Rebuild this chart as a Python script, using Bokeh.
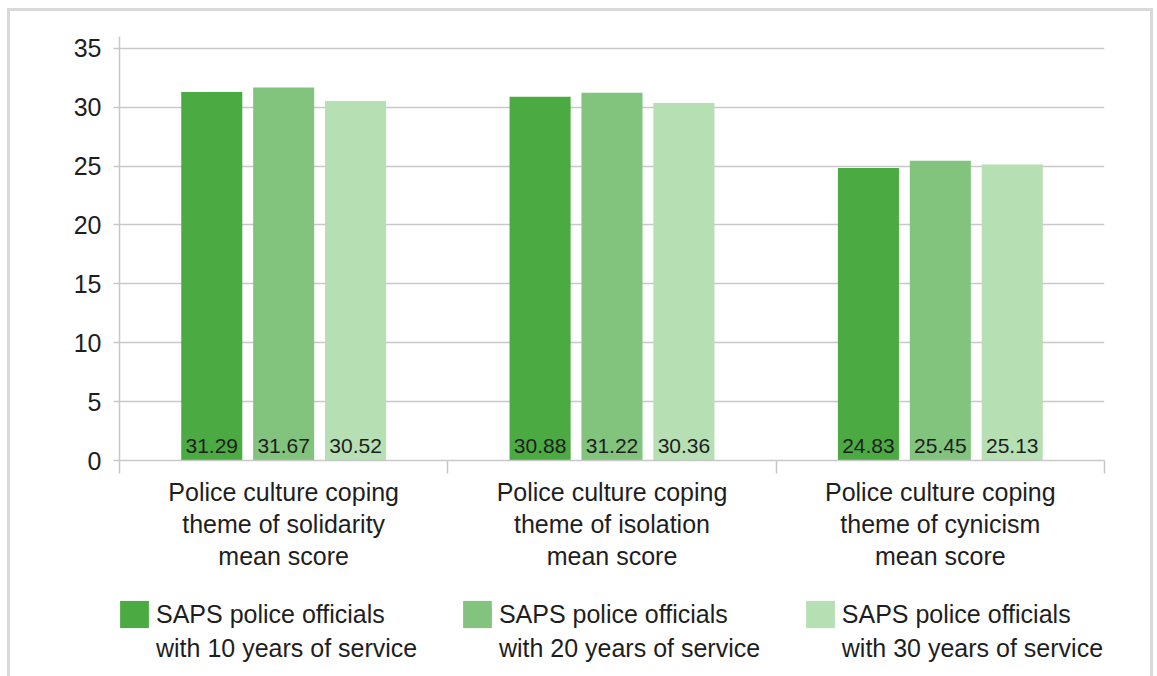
from bokeh.plotting import figure
from bokeh.layouts import column
from bokeh.models import (Range1d, FixedTicker, ColumnDataSource, Legend, LegendItem)
from bokeh.transform import dodge
from bokeh.core.properties import value
from bokeh.embed import file_html
from bokeh.resources import INLINE

categories = ["Police culture coping\ntheme of solidarity\nmean score",
              "Police culture coping\ntheme of isolation\nmean score",
              "Police culture coping\ntheme of cynicism\nmean score"]
series_line1 = ["SAPS police officials", "SAPS police officials", "SAPS police officials"]
series_line2 = ["with 10 years of service", "with 20 years of service", "with 30 years of service"]
years10 = [31.29, 30.88, 24.83]
years20 = [31.67, 31.22, 25.45]
years30 = [30.52, 30.36, 25.13]
colors = ["#4baa42", "#82c47d", "#b7dfb4"]
y_ticks = [0, 5, 10, 15, 20, 25, 30, 35]

FONT = "Liberation Sans"
TXT = "#1e1e1e"
GRID = "#c8c8c8"
W = 1146

xc = [i + 0.5 for i in range(len(categories))]
src = ColumnDataSource(dict(x=xc, y10=years10, y20=years20, y30=years30,
                            l10=[f"{v:.2f}" for v in years10],
                            l20=[f"{v:.2f}" for v in years20],
                            l30=[f"{v:.2f}" for v in years30]))

p = figure(width=W, height=565, output_backend="svg", toolbar_location=None,
           x_range=Range1d(0, 3), y_range=Range1d(0, 36),
           min_border_left=112, min_border_right=49, min_border_top=28,
           min_border_bottom=113)
p.border_fill_color = None
p.background_fill_color = "white"
p.outline_line_color = None

off = 0.219
w = 0.186
for i, (col, lab) in enumerate([("y10", "l10"), ("y20", "l20"), ("y30", "l30")]):
    d = (i - 1) * off
    p.vbar(x=dodge("x", d, range=p.x_range), top=col, bottom=0, width=w,
           source=src, fill_color=colors[i], line_color=None)
    p.text(x=dodge("x", d, range=p.x_range), y=0, text=lab, source=src,
           text_align="center", text_baseline="bottom", y_offset=-8,
           text_font=value(FONT), text_font_size="21px", text_color=TXT)

# axes
p.yaxis.ticker = FixedTicker(ticks=y_ticks)
p.yaxis.major_label_text_font = FONT
p.yaxis.major_label_text_font_size = "25px"
p.yaxis.major_label_text_color = TXT
p.yaxis.major_tick_out = 6
p.yaxis.major_tick_in = 0
p.yaxis.minor_tick_line_color = None
p.yaxis.major_label_standoff = 12
p.yaxis.axis_line_color = GRID
p.yaxis.axis_line_width = 1.5
p.yaxis.major_tick_line_color = GRID
p.yaxis.major_tick_line_width = 1.5

p.xaxis.ticker = FixedTicker(ticks=xc, minor_ticks=[0, 1, 2, 3])
p.xaxis.major_label_overrides = {x: c for x, c in zip(xc, categories)}
p.xaxis.major_label_text_font = FONT
p.xaxis.major_label_text_font_size = "25px"
p.xaxis.major_label_text_color = TXT
p.xaxis.major_label_text_line_height = 1.155
p.xaxis.major_tick_line_color = None
p.xaxis.major_tick_out = 0
p.xaxis.major_tick_in = 0
p.xaxis.major_label_standoff = 4
p.xaxis.minor_tick_line_color = GRID
p.xaxis.minor_tick_line_width = 1.5
p.xaxis.minor_tick_out = 13
p.xaxis.minor_tick_in = 0
p.xaxis.axis_line_color = GRID
p.xaxis.axis_line_width = 1.5

p.xgrid.grid_line_color = None
p.ygrid.grid_line_color = GRID
p.ygrid.grid_line_width = 1.5

# legend strip below the chart
lf = figure(width=W, height=103, output_backend="svg", toolbar_location=None,
            x_range=Range1d(0, 1), y_range=Range1d(0, 1),
            x_axis_location=None, y_axis_location=None,
            min_border=0, min_border_left=0, min_border_right=0,
            min_border_top=0, min_border_bottom=0)
lf.frame_align = False
lf.grid.grid_line_color = None
lf.outline_line_color = None
lf.border_fill_color = None
lf.background_fill_color = None

# legend proxies sit outside the visible range of the strip
proxy = ColumnDataSource(dict(x=[5], top=[5]))
blank = lf.vbar(x="x", top="top", width=0.1, source=proxy, fill_alpha=0, line_alpha=0)
items = []
for i in range(3):
    r = lf.vbar(x="x", top="top", width=0.1, source=proxy,
                fill_color=colors[i], line_color=None)
    items.append(LegendItem(label=series_line1[i], renderers=[r]))
    items.append(LegendItem(label=series_line2[i] + "\u00a0" * 6, renderers=[blank]))
legend = Legend(items=items, orientation="vertical", nrows=2, location=(109, 11))
legend.glyph_width = 36
legend.glyph_height = 34
legend.label_standoff = 4
legend.spacing = 0
legend.margin = 0
legend.padding = 0
legend.label_text_font = FONT
legend.label_text_font_size = "25px"
legend.label_text_color = TXT
legend.background_fill_color = None
legend.border_line_color = None
lf.add_layout(legend)

layout = column(p, lf, spacing=0)
layout.styles = {"box-shadow": "inset 3px 0 0 0 #d9d9d9, inset -3px 0 0 0 #d9d9d9, inset 0 3px 0 0 #d9d9d9",
                 "margin-left": "7px", "margin-top": "8px"}

open("out.html", "w").write(file_html(layout, INLINE))
